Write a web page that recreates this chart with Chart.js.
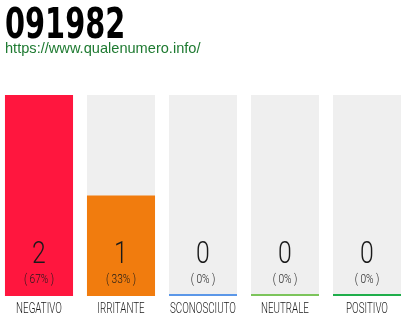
<!DOCTYPE html>
<html><head><meta charset="utf-8">
<script src="https://cdn.jsdelivr.net/npm/chart.js@4/dist/chart.umd.min.js"></script>
<style>html,body{margin:0;padding:0;background:#fff;}#wrap{position:relative;width:410px;height:320px;}canvas{display:block;}</style>
</head><body>
<div id="wrap"><canvas id="c" width="410" height="320"></canvas></div>
<script>
const titleText = '091982';
const siteText = 'https://www.qualenumero.info/';
const categories = ['NEGATIVO', 'IRRITANTE', 'SCONOSCIUTO', 'NEUTRALE', 'POSITIVO'];
const votes = [2, 1, 0, 0, 0];
const percentLabels = ['( 67% )', '( 33% )', '( 0% )', '( 0% )', '( 0% )'];
const trackValues = [2, 2, 2, 2, 2];
const barColors = ['#ff163e', '#f17c0e', '#5b97e8', '#7cc45b', '#1fae4b'];

function drawScaled(ctx, text, x, y, font, sx, align) {
  ctx.save();
  ctx.font = font;
  ctx.textAlign = align;
  ctx.textBaseline = 'alphabetic';
  ctx.translate(x, y);
  ctx.scale(sx, 1);
  ctx.fillText(text, 0, 0);
  ctx.restore();
}
function fitScale(ctx, text, font, target) {
  ctx.save();
  ctx.font = font;
  const m = ctx.measureText(text);
  ctx.restore();
  const w = (m.actualBoundingBoxLeft + m.actualBoundingBoxRight) || m.width;
  return target / w;
}

const textPlugin = {
  id: 'texts',
  afterDraw(chart) {
    const ctx = chart.ctx;
    const xs = chart.scales.x;
    const titleFont = 'bold 43px "DejaVu Sans", sans-serif';
    ctx.fillStyle = '#000';
    drawScaled(ctx, titleText, 5, 38, titleFont, fitScale(ctx, titleText, titleFont, 117), 'left');
    ctx.fillStyle = '#1e7a31';
    drawScaled(ctx, siteText, 5, 53, '14.6px "Liberation Sans", Arial, sans-serif', 1, 'left');
    const numFont = '300 31px Roboto, "DejaVu Sans", sans-serif';
    const pctFont = '300 13px Roboto, "DejaVu Sans", sans-serif';
    const catFont = '300 15px Roboto, "DejaVu Sans", sans-serif';
    const catScale = fitScale(ctx, 'NEGATIVO', catFont, 45);
    ctx.fillStyle = '#1a1a1a';
    categories.forEach((c, i) => {
      const x = xs.getPixelForValue(i);
      drawScaled(ctx, String(votes[i]), x, 263, numFont, 0.8, 'center');
      drawScaled(ctx, percentLabels[i], x, 283, pctFont, 0.78, 'center');
      drawScaled(ctx, c, x, 313, catFont, catScale, 'center');
    });
  }
};

new Chart(document.getElementById('c'), {
  type: 'bar',
  data: {
    datasets: [
      {
        label: 'Voti',
        data: votes.map((v, i) => ({x: i, y: v})),
        backgroundColor: barColors,
        borderWidth: 0,
        grouped: false,
        barPercentage: 0.83,
        categoryPercentage: 1
      },
      {
        label: 'Totale',
        data: trackValues.map((v, i) => ({x: i, y: v})),
        backgroundColor: '#efefef',
        borderColor: barColors,
        borderWidth: {top: 0, left: 0, right: 0, bottom: 2},
        borderSkipped: false,
        grouped: false,
        barPercentage: 0.83,
        categoryPercentage: 1
      }
    ]
  },
  options: {
    responsive: false,
    animation: false,
    layout: {padding: {top: 95, bottom: 24, left: 0, right: 0}},
    plugins: {legend: {display: false}, tooltip: {enabled: false}, title: {display: false}},
    scales: {
      x: {type: 'linear', display: false, offset: false, min: -39 / 82, max: 371 / 82, ticks: {stepSize: 1, includeBounds: false}},
      y: {display: false, min: 0, max: 2}
    }
  },
  plugins: [textPlugin]
});
</script>
</body></html>
